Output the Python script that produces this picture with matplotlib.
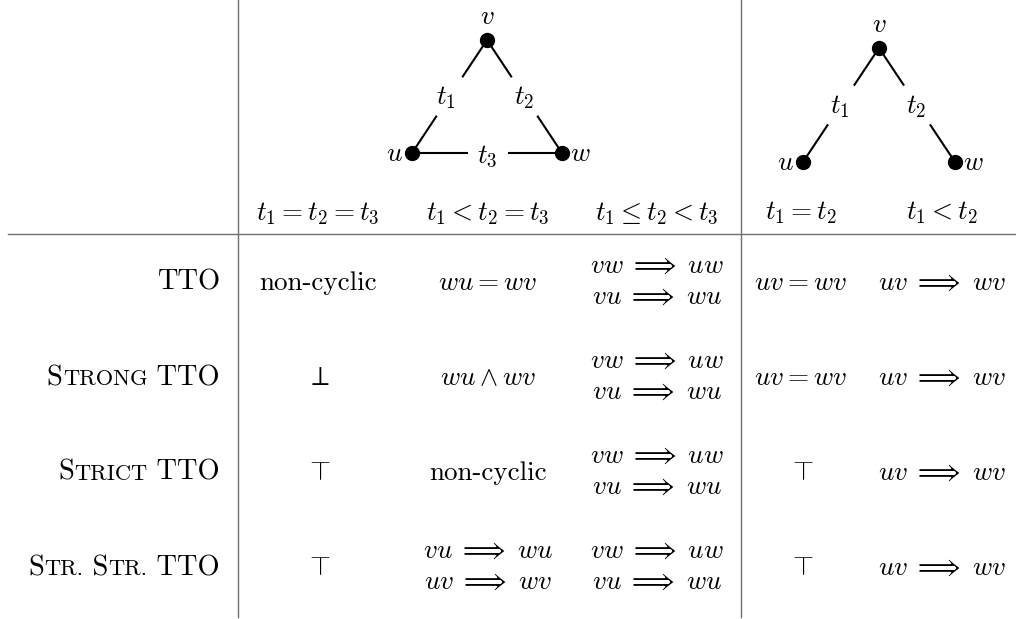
import matplotlib
matplotlib.use("Agg")
import matplotlib.pyplot as plt

plt.rcParams['mathtext.fontset'] = 'cm'
plt.rcParams['font.family'] = 'cmr10'

# ---------------- table content ----------------
col_headers = [r'$t_1 = t_2 = t_3$', r'$t_1 < t_2 = t_3$', r'$t_1 \leq t_2 < t_3$',
               r'$t_1 = t_2$', r'$t_1 < t_2$']

# row labels as small-caps pieces: (text, is_big)
row_labels = [
    [('TTO', True)],
    [('S', True), ('TRONG', False), (' TTO', True)],
    [('S', True), ('TRICT', False), (' TTO', True)],
    [('S', True), ('TR.', False), (' S', True), ('TR.', False), (' TTO', True)],
]

IMP = r'\;\Longrightarrow\;'
cells = [
    ['non-cyclic', r'$wu = wv$', [rf'$vw{IMP}uw$', rf'$vu{IMP}wu$'],
     r'$uv = wv$', rf'$uv{IMP}wv$'],
    [r'$\perp$', r'$wu \wedge wv$', [rf'$vw{IMP}uw$', rf'$vu{IMP}wu$'],
     r'$uv = wv$', rf'$uv{IMP}wv$'],
    [r'$\top$', 'non-cyclic', [rf'$vw{IMP}uw$', rf'$vu{IMP}wu$'],
     r'$\top$', rf'$uv{IMP}wv$'],
    [r'$\top$', [rf'$vu{IMP}wu$', rf'$uv{IMP}wv$'], [rf'$vw{IMP}uw$', rf'$vu{IMP}wu$'],
     r'$\top$', rf'$uv{IMP}wv$'],
]

# ---------------- layout ----------------
W, H = 1016, 619
col_x = [318, 488, 657, 801, 942]
row_y = [290, 385, 480, 575]
header_y = 219
label_right = 220
FS = 19.5
FS_LABEL = 20.5
FS_SMALL = 16.2
line_col = '#707070'

fig = plt.figure(figsize=(W / 100, H / 100), dpi=100)
ax = fig.add_axes([0, 0, 1, 1])
ax.set_xlim(0, W)
ax.set_ylim(H, 0)
ax.axis('off')

# rules
ax.plot([238, 238], [0, 617], color=line_col, lw=1.0)
ax.plot([741, 741], [0, 617], color=line_col, lw=1.0)
ax.plot([8, W], [234, 234], color=line_col, lw=1.0)

# headers
for x, h in zip(col_x, col_headers):
    ax.text(x, header_y, h, ha='center', va='baseline', fontsize=FS)

# cells
for r, row in enumerate(cells):
    for c, cell in enumerate(row):
        if isinstance(cell, list):
            ax.text(col_x[c], row_y[r] - 17, cell[0], ha='center', va='baseline', fontsize=FS)
            ax.text(col_x[c], row_y[r] + 14, cell[1], ha='center', va='baseline', fontsize=FS)
        else:
            ax.text(col_x[c], row_y[r], cell, ha='center', va='baseline', fontsize=FS)

# row labels with small caps, right aligned
fig.canvas.draw()
renderer = fig.canvas.get_renderer()
for r, pieces in enumerate(row_labels):
    texts = []
    for s, big in pieces:
        t = ax.text(0, row_y[r], s, ha='left', va='baseline',
                    fontsize=FS_LABEL if big else FS_SMALL)
        texts.append(t)
    widths = [t.get_window_extent(renderer).width for t in texts]
    x = label_right - sum(widths)
    for t, w in zip(texts, widths):
        t.set_x(x)
        x += w


# graphs
def edge(p, q, gap=(0.33, 0.67)):
    (x1, y1), (x2, y2) = p, q
    for a, b in [(0, gap[0]), (gap[1], 1)]:
        ax.plot([x1 + a * (x2 - x1), x1 + b * (x2 - x1)],
                [y1 + a * (y2 - y1), y1 + b * (y2 - y1)], color='black', lw=1.5,
                solid_capstyle='butt')


def graph(v, u, w, labels, tri):
    edge(v, u)
    edge(v, w)
    if tri:
        edge(u, w, gap=(0.37, 0.64))
    for p in (v, u, w):
        ax.plot(*p, 'o', color='black', ms=10, zorder=3)
    ax.text(v[0], v[1] - 11, r'$v$', ha='center', va='bottom', fontsize=FS)
    ax.text(u[0] - 9, u[1] + 1, r'$u$', ha='right', va='center', fontsize=FS)
    ax.text(w[0] + 8, w[1] + 1, r'$w$', ha='left', va='center', fontsize=FS)
    for (x, y), s in labels:
        ax.text(x, y, s, ha='center', va='center', fontsize=FS)


graph((487, 40), (412, 153), (562, 153),
      [((446, 98), r'$t_1$'), ((524, 98), r'$t_2$'), ((487, 156), r'$t_3$')], True)
graph((879, 48), (803, 162), (955, 162),
      [((840, 107), r'$t_1$'), ((916, 107), r'$t_2$')], False)

fig.savefig('out.png', dpi=100)
